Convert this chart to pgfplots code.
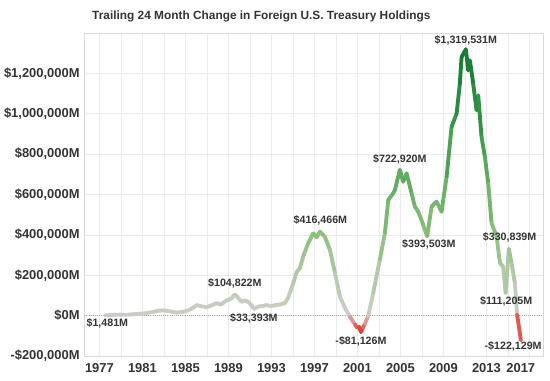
\documentclass[border=0pt]{standalone}
\usepackage{fontspec}
\setmainfont{Liberation Sans}
\usepackage{pgfplots}
\pgfplotsset{compat=1.18}
\definecolor{txt}{HTML}{333333}
\definecolor{gridc}{HTML}{EBEBEB}
\definecolor{framec}{HTML}{DADADA}
\tikzset{lbl/.style={font=\fontsize{8}{9.5}\selectfont\bfseries, text=txt, inner sep=0pt},
  ttl/.style={font=\fontsize{8.9}{10.5}\selectfont\bfseries, text=txt, inner sep=0pt},
  tkl/.style={font=\fontsize{9.7}{11}\selectfont\bfseries, text=txt}}
\begin{document}
\begin{tikzpicture}
\path[use as bounding box] (0,0) rectangle (412.5pt,285pt);
\node[ttl] at (196pt,272.8pt) {Trailing 24 Month Change in Foreign U.S. Treasury Holdings};
\begin{axis}[
  at={(63.2pt,18pt)}, anchor=south west, scale only axis,
  width=344pt, height=242.25pt,
  xmin=1975.59, xmax=2018.26, ymin=-200000, ymax=1400000,
  scaled y ticks=false, scaled x ticks=false,
  clip mode=individual,
  xtick={1977,1981,...,2013},
  xticklabels={1977,1981,1985,1989,1993,1997,2001,2005,2009,2013},
  minor xtick={1979,1983,...,2015,2017},
  ytick={-200000,0,200000,400000,600000,800000,1000000,1200000},
  yticklabels={-\$200{,}000M,\$0M,\$200{,}000M,\$400{,}000M,\$600{,}000M,\$800{,}000M,\$1{,}000{,}000M,\$1{,}200{,}000M},
  grid=both,
  major grid style={gridc, line width=0.5pt},
  minor grid style={gridc, line width=0.5pt},
  axis line style={framec},
  major tick length=0pt, minor tick length=0pt,
  tick label style={tkl},
  xticklabel style={yshift=-1.7pt},
  colormap={tab}{rgb255(0pt)=(195,15,20); rgb255(50pt)=(220,50,40); rgb255(100pt)=(225,140,130); rgb255(130pt)=(205,203,200); rgb255(230pt)=(195,205,190); rgb255(530pt)=(140,192,125); rgb255(830pt)=(95,170,95); rgb255(1130pt)=(50,145,70); rgb255(1450pt)=(20,120,50)},
  point meta min=-130000, point meta max=1320000,
]
\addplot[densely dotted, black!35, line width=0.6pt] coordinates {(1975.59,0) (2018.26,0)};
\addplot[mesh, point meta=y, line width=2.9pt, line cap=round, line join=round] coordinates {
(1977.51,1481) (1978.0,3000) (1978.5,4000) (1979.0,5000) (1979.5,4000) (1980.0,6000)
(1980.5,8000) (1981.05,10000) (1981.5,14000) (1982.0,18000) (1982.44,24000) (1983.0,26000)
(1983.5,22000) (1984.18,15000) (1984.7,18000) (1985.2,25000) (1985.6,35000) (1986.04,52000)
(1986.5,46000) (1986.97,42000) (1987.4,50000) (1987.90,62000) (1988.3,55000) (1988.83,75000)
(1989.2,82000) (1989.60,104822) (1989.9,88000) (1990.23,68000) (1990.5,76000) (1990.84,68000)
(1991.16,52000) (1991.37,33393) (1991.77,45000) (1992.2,48000) (1992.55,52000) (1993.0,47000)
(1993.4,53000) (1993.79,55000) (1994.26,62000) (1994.56,88000) (1994.8,125000) (1995.03,160000)
(1995.34,215000) (1995.65,235000) (1996.0,300000) (1996.19,326000) (1996.42,359000) (1996.89,408000)
(1997.20,388000) (1997.51,416466) (1997.98,390000) (1998.44,326000) (1998.91,212000) (1999.37,95000)
(1999.84,38000) (2000.30,-5000) (2000.77,-44000) (2001.0,-60000) (2001.15,-55000) (2001.33,-81126)
(2001.5,-60000) (2001.70,-40000) (2002.00,-3000) (2002.47,112000) (2003.09,277000) (2003.56,410000)
(2003.87,573000) (2004.33,606000) (2004.49,622000) (2004.95,722920) (2005.26,663000) (2005.58,705000)
(2006.04,606000) (2006.35,540000) (2006.66,515000) (2007.12,450000) (2007.49,393503) (2007.90,540000)
(2008.37,565000) (2008.83,515000) (2009.30,688000) (2009.76,935000) (2010.23,1001000) (2010.53,1149000)
(2010.69,1280000) (2011.09,1319531) (2011.31,1215000) (2011.47,1264000) (2011.77,1149000) (2012.09,1017000)
(2012.24,1091000) (2012.55,885000) (2012.86,787000) (2013.17,655000) (2013.48,458000) (2013.95,392000)
(2014.26,260000) (2014.56,243000) (2014.79,111205) (2015.09,330839) (2015.34,260000) (2015.65,161000)
(2015.86,5000) (2016.21,-122129)
};
\node[tkl, anchor=north, yshift=-1.7pt] at (axis cs:2016.2,-200000) {2017};
\node[lbl] at (axis cs:1977.74,-39500) {\$1,481M};
\node[lbl] at (axis cs:1989.60,161000) {\$104,822M};
\node[lbl] at (axis cs:1991.37,-15000) {\$33,393M};
\node[lbl] at (axis cs:1997.56,470600) {\$416,466M};
\node[lbl] at (axis cs:2001.33,-127000) {-\$81,126M};
\node[lbl] at (axis cs:2004.95,775000) {\$722,920M};
\node[lbl] at (axis cs:2007.65,350600) {\$393,503M};
\node[lbl] at (axis cs:2011.09,1363000) {\$1,319,531M};
\node[lbl] at (axis cs:2015.16,386600) {\$330,839M};
\node[lbl] at (axis cs:2014.84,70600) {\$111,205M};
\node[lbl] at (axis cs:2015.49,-151600) {-\$122,129M};
\end{axis}
\end{tikzpicture}
\end{document}
